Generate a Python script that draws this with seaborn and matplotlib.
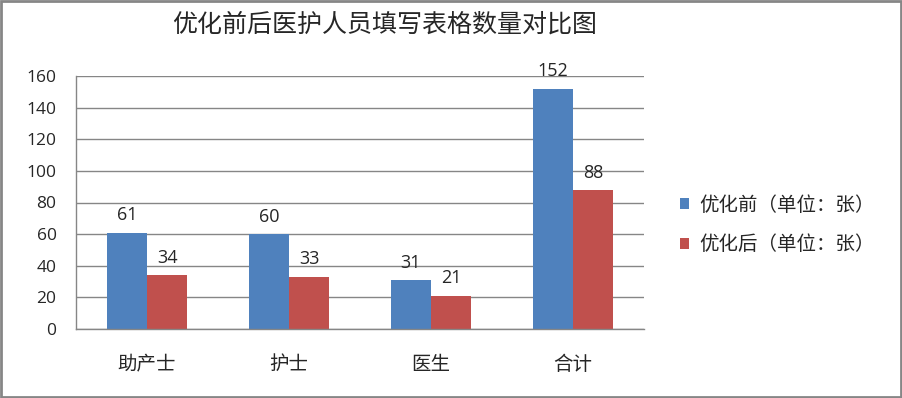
import matplotlib
matplotlib.use("Agg")
import matplotlib.pyplot as plt
import seaborn as sns
import pandas as pd
from matplotlib.patches import Rectangle

categories = ["助产士", "护士", "医生", "合计"]
series_names = ["优化前（单位：张）", "优化后（单位：张）"]
before = [61, 60, 31, 152]
after = [34, 33, 21, 88]
yticks = [0, 20, 40, 60, 80, 100, 120, 140, 160]
colors = ["#4F81BD", "#C0504D"]

sns.set_theme(style="white")
plt.rcParams['font.family'] = ['Noto Sans CJK SC', 'DejaVu Sans']

df = pd.DataFrame({
    "cat": categories * 2,
    "series": [series_names[0]] * 4 + [series_names[1]] * 4,
    "val": before + after,
})

fig = plt.figure(figsize=(9.03, 3.98), dpi=100)
ax = fig.add_axes([76/903, 1-329/398, (644-76)/903, (329-76)/398])
sns.barplot(data=df, x="cat", y="val", hue="series", palette=colors,
            width=0.57, saturation=1, ax=ax, legend=True, linewidth=0)

ax.set_ylim(0, 160)
ax.set_yticks(yticks)
ax.set_yticklabels([str(v) for v in yticks], family=['Open Sans', 'DejaVu Sans'], fontsize=12.5)
ax.set_xlabel("")
ax.set_ylabel("")
ax.grid(axis="y", color="#868686", linewidth=1)
ax.set_axisbelow(True)
for s in ["top", "right"]:
    ax.spines[s].set_visible(False)
for s in ["left", "bottom"]:
    ax.spines[s].set_color("#868686")
    ax.spines[s].set_linewidth(1)
ax.tick_params(axis="x", length=0, pad=18, labelsize=14)
ax.tick_params(axis="y", length=0, pad=14)
for lab in ax.get_xticklabels():
    lab.set_family(['Noto Sans CJK SC', 'DejaVu Sans'])

for cont in ax.containers:
    ax.bar_label(cont, padding=6, fontsize=13, family=['Open Sans', 'DejaVu Sans'])

leg = ax.legend(loc="center left", bbox_to_anchor=((672-76)/(644-76), 1 - (225-76)/253),
                frameon=False, fontsize=14, handlelength=0.5, handleheight=0.5,
                handletextpad=0.5, labelspacing=0.95, borderaxespad=0)

fig.text(385/903, 1-25/398, "优化前后医护人员填写表格数量对比图", ha="center", va="center",
         fontsize=18)

fig.patches.append(Rectangle((0.001, 0.002), 0.997, 0.995, transform=fig.transFigure,
                             fill=False, edgecolor="#868686", linewidth=2))

fig.savefig("out.png", dpi=100)
